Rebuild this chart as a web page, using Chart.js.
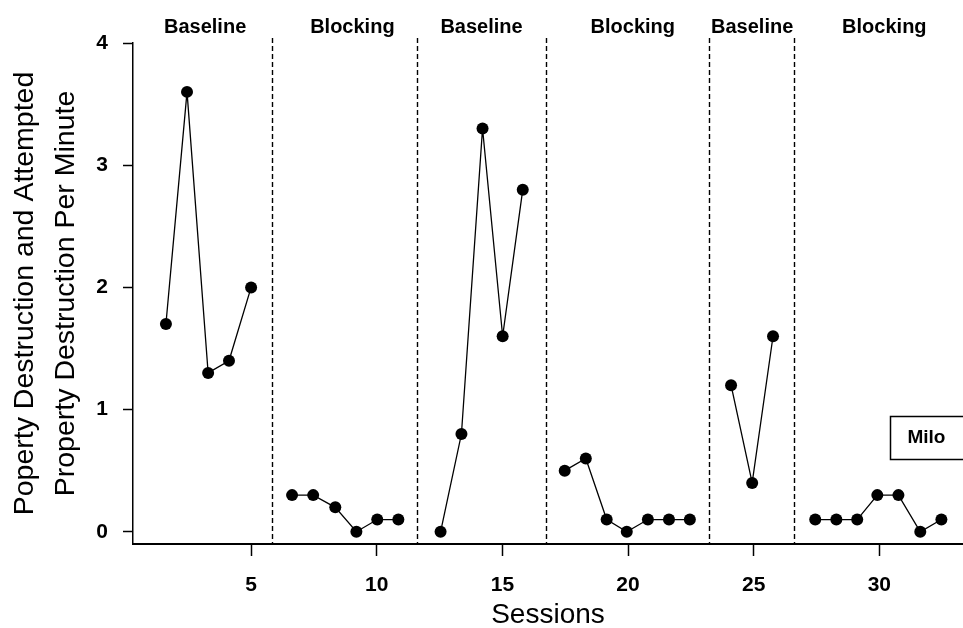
<!DOCTYPE html>
<html><head><meta charset="utf-8">
<script src="https://cdn.jsdelivr.net/npm/chart.js@4.4.0/dist/chart.umd.min.js"></script>
<style>html,body{margin:0;padding:0;background:#fff}#wrap{width:963px;height:628px;position:relative}</style>
</head><body><div id="wrap"><canvas id="c" width="963" height="628"></canvas></div>
<script>
// ---- data ----
const phaseNames = ['Baseline', 'Blocking', 'Baseline', 'Blocking', 'Baseline', 'Blocking'];
const phase1X = [1.61, 2.45, 3.29, 4.12, 5.0];
const phase1Y = [1.7, 3.6, 1.3, 1.4, 2.0];
const phase2X = [6.63, 7.47, 8.35, 9.19, 10.02, 10.86];
const phase2Y = [0.3, 0.3, 0.2, 0, 0.1, 0.1];
const phase3X = [12.54, 13.37, 14.21, 15.01, 15.81];
const phase3Y = [0, 0.8, 3.3, 1.6, 2.8];
const phase4X = [17.48, 18.32, 19.15, 19.95, 20.79, 21.63, 22.46];
const phase4Y = [0.5, 0.6, 0.1, 0, 0.1, 0.1, 0.1];
const phase5X = [24.10, 24.94, 25.77];
const phase5Y = [1.2, 0.4, 1.6];
const phase6X = [27.45, 28.29, 29.12, 29.92, 30.76, 31.63, 32.47];
const phase6Y = [0.1, 0.1, 0.1, 0.3, 0.3, 0, 0.1];
const phaseChangeX = [5.84, 11.62, 16.72, 23.22, 26.61];
const phaseLabelX = [3.17, 9.03, 14.17, 20.19, 24.94, 30.2];
const xTicks = [5, 10, 15, 20, 25, 30];
const yTicks = [0, 1, 2, 3, 4];
const subjectLabel = 'Milo';
const yTitle = ['Poperty Destruction and Attempted', 'Property Destruction Per Minute'];
const xTitle = 'Sessions';

const FONT = "'Liberation Sans', Arial, Helvetica, sans-serif";
const phasesX = [phase1X, phase2X, phase3X, phase4X, phase5X, phase6X];
const phasesY = [phase1Y, phase2Y, phase3Y, phase4Y, phase5Y, phase6Y];

const datasets = phasesX.map((xs, p) => ({
  label: phaseNames[p] + ' ' + (p + 1),
  data: xs.map((x, i) => ({ x: x, y: phasesY[p][i] })),
  borderColor: '#000',
  backgroundColor: '#000',
  borderWidth: 1.3,
  pointRadius: 6,
  pointHoverRadius: 6,
  pointBorderWidth: 0,
  pointBackgroundColor: '#000',
  tension: 0,
  fill: false
}));

const phasePlugin = {
  id: 'phasePlugin',
  afterDatasetsDraw(chart) {
    const ctx = chart.ctx;
    const xs = chart.scales.x, ys = chart.scales.y;
    const area = chart.chartArea;
    ctx.save();
    // phase change lines
    ctx.strokeStyle = '#000';
    ctx.lineWidth = 1.4;
    ctx.setLineDash([5, 3]);
    phaseChangeX.forEach(v => {
      const px = Math.round(xs.getPixelForValue(v)) + 0.5;
      ctx.beginPath();
      ctx.moveTo(px, area.top - 5);
      ctx.lineTo(px, area.bottom);
      ctx.stroke();
    });
    ctx.setLineDash([]);
    // phase labels
    ctx.fillStyle = '#000';
    ctx.font = 'bold 20px ' + FONT;
    ctx.textAlign = 'center';
    ctx.textBaseline = 'middle';
    phaseLabelX.forEach((v, i) => {
      ctx.fillText(phaseNames[i], xs.getPixelForValue(v), 27);
    });
    // subject box
    const bx = xs.getPixelForValue(30.44);
    const by1 = ys.getPixelForValue(0.95);
    const by2 = ys.getPixelForValue(0.60);
    ctx.lineWidth = 1.5;
    ctx.strokeRect(Math.round(bx) + 0.5, Math.round(by1) + 0.5, 200, Math.round(by2 - by1));
    ctx.font = 'bold 19px ' + FONT;
    ctx.fillText(subjectLabel, bx + 36, (by1 + by2) / 2 + 1);
    ctx.restore();
  }
};

new Chart(document.getElementById('c'), {
  type: 'line',
  data: { datasets },
  plugins: [phasePlugin],
  options: {
    responsive: false,
    animation: false,
    devicePixelRatio: 1,
    layout: { autoPadding: false, padding: { top: 43, right: 0, left: 0, bottom: 0 } },
    plugins: { legend: { display: false }, tooltip: { enabled: false } },
    scales: {
      x: {
        type: 'linear',
        min: 0.3,
        max: 33.33,
        afterBuildTicks: s => { s.ticks = xTicks.map(v => ({ value: v })); },
        afterFit: s => { s.height = 84; s.paddingLeft = 0; s.paddingRight = 0; },
        ticks: { color: '#000', font: { family: FONT, size: 21, weight: 'bold' }, padding: 17, maxRotation: 0, autoSkip: false, callback: v => String(v) },
        grid: { drawOnChartArea: false, drawTicks: true, tickLength: 12, tickWidth: 1.5, tickColor: '#000' },
        border: { display: true, color: '#000', width: 2 },
        title: { display: true, text: xTitle, color: '#000', font: { family: FONT, size: 28, lineHeight: 1 }, padding: { top: 0, bottom: -1 } }
      },
      y: {
        type: 'linear',
        min: -0.1,
        max: 4,
        afterBuildTicks: s => { s.ticks = yTicks.map(v => ({ value: v })); },
        afterFit: s => { s.width = 133; s.paddingTop = 0; s.paddingBottom = 0; },
        ticks: { color: '#000', font: { family: FONT, size: 21, weight: 'bold' }, padding: 15, callback: v => String(v) },
        grid: { drawOnChartArea: false, drawTicks: true, tickLength: 10, tickWidth: 1.5, tickColor: '#000' },
        border: { display: true, color: '#000', width: 1.5 },
        title: { display: true, text: yTitle, color: '#000', font: { family: FONT, size: 28.5, lineHeight: 1.44 }, padding: { top: 5, bottom: 0 } }
      }
    }
  }
});
</script>
</body></html>
